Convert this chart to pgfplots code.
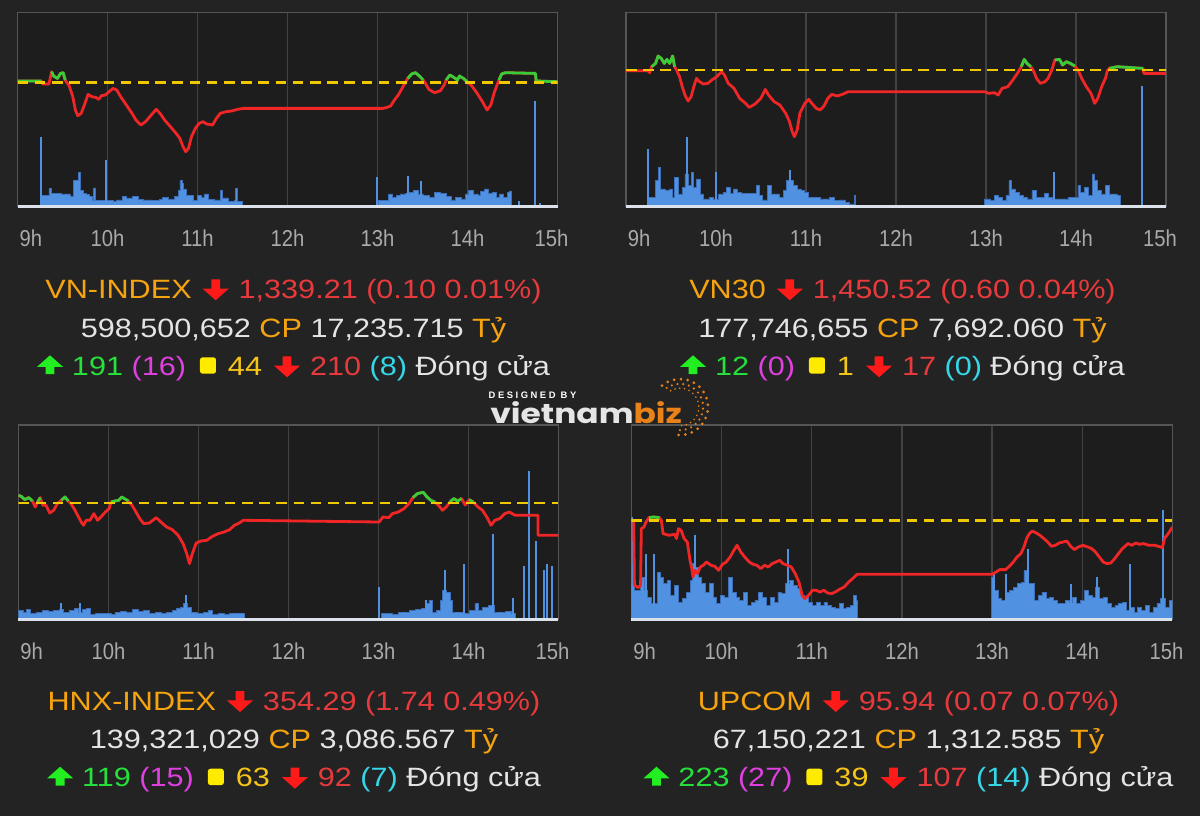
\documentclass[border=0pt]{standalone}
\usepackage{pgfplots}
\pgfplotsset{compat=1.18}
\usepackage{fontspec}
\setmainfont{Liberation Sans}
\newfontfamily\infofont{Liberation Sans}[FakeStretch=1.155]
\newfontfamily\tickfont{Liberation Sans}[FakeStretch=0.88]
\newfontfamily\logofont{Poppins}[FakeStretch=1.2]
\newfontfamily\designfont{Liberation Sans}[LetterSpace=27]

\definecolor{bgc}{RGB}{35,35,35}
\definecolor{plotbg}{RGB}{29,29,29}
\definecolor{framec}{RGB}{85,85,85}
\definecolor{gridc}{RGB}{66,66,66}
\definecolor{basec}{RGB}{220,226,236}
\definecolor{volc}{RGB}{80,145,225}
\definecolor{voledge}{RGB}{62,112,185}
\definecolor{pricered}{RGB}{240,38,38}
\definecolor{pricegreen}{RGB}{55,205,55}
\definecolor{refyellow}{RGB}{240,200,0}
\definecolor{tickc}{RGB}{170,170,170}
\definecolor{torange}{RGB}{245,163,15}
\definecolor{tred}{RGB}{232,58,60}
\definecolor{twhite}{RGB}{228,228,228}
\definecolor{tgreen}{RGB}{38,224,60}
\definecolor{tmagenta}{RGB}{224,64,224}
\definecolor{tyellow}{RGB}{245,197,24}
\definecolor{sqyellow}{RGB}{255,235,0}
\definecolor{tcyan}{RGB}{53,214,232}
\definecolor{arrred}{RGB}{255,26,26}
\definecolor{arrgreen}{RGB}{34,238,34}
\definecolor{logoorange}{RGB}{232,130,25}

\newcommand{\dnarr}{\tikz[x=1pt,y=1pt,baseline=0pt]{\fill[arrred] (6.5,-1)--(13,4.8)--(8.7,4.8)--(8.7,9.5)--(4.3,9.5)--(4.3,4.8)--(0,4.8)--cycle;}}
\newcommand{\uparr}{\tikz[x=1pt,y=1pt,baseline=0pt]{\fill[arrgreen] (6.5,10)--(13,4.2)--(8.7,4.2)--(8.7,0.6)--(4.3,0.6)--(4.3,4.2)--(0,4.2)--cycle;}}
\newcommand{\ysq}{\tikz[x=1pt,y=1pt,baseline=0pt]{\fill[sqyellow,rounded corners=1.3pt] (0,0.8) rectangle (8,9);}}

\pgfplotsset{
 panel/.style={
  scale only axis, width=270pt, height=97.15pt,
  xmin=0,xmax=360,ymin=0,ymax=194.3,
  axis background/.style={fill=plotbg},
  axis line style={draw=framec,line width=0.8pt},
  xtick={0,60,...,360}, ytick=\empty,
  xticklabels={{\hspace*{13.2pt}9h},10h,11h,12h,13h,14h,{15h\hspace*{6pt}}},
  xmajorgrids, major grid style={draw=gridc,line width=0.6pt},
  major tick length=0pt,
  xticklabel style={font=\tickfont\fontsize{11.5pt}{12pt}\selectfont, text=tickc, anchor=base, yshift=-19.85pt, inner sep=0pt},
  clip mode=individual,
 },
 vol/.style={const plot, fill=volc, draw=voledge, line width=0.35pt},
 spike/.style={ycomb, draw=volc, line width=1pt},
 redline/.style={pricered, line width=1.4pt, line join=round},
 greenline/.style={pricegreen, line width=1.4pt, line join=round, unbounded coords=jump},
 refline/.style={refyellow, line width=1.4pt, dash pattern=on 5.3pt off 3.3pt},
}
\tikzset{info/.style={anchor=base, inner sep=0pt, font=\infofont\fontsize{13.25pt}{15pt}\selectfont}}

\begin{document}
\begin{tikzpicture}[x=0.5pt,y=0.5pt]
\fill[bgc] (0,0) rectangle (1200,816);

% ---------------- VN-INDEX ----------------
\begin{axis}[panel, at={(8.8pt,304.65pt)}, anchor=south west]
\addplot[vol] coordinates {(15.8,11)(20.2,11)(20.9,18.3)(22.2,13.3)(26.6,13.3)(29.1,12.7)(32.9,12.7)(35,10)(37.3,26)(38.8,26.7)(40.6,34.3)(41.9,16)(43.7,13.3)(45.7,12)(47.5,10)(49.5,6.7)(50.8,18.7)(52.1,6)(58.5,6)(60.3,6)(63.6,5.3)(66.1,6.7)(70,10)(72.5,8.7)(76.3,10)(80.2,7.3)(84,6.7)(89.1,6)(94.2,7.3)(96.8,9.3)(100.6,7.3)(104.4,10)(107,16)(108.2,26)(109.5,23.3)(110.8,17.7)(112.6,11)(114.6,11)(117.2,6)(119.7,11)(122.3,9.3)(124.8,12.7)(127.4,7.3)(131.2,6.7)(135.1,16)(136.3,8.7)(140.2,5.3)(144.5,6)(145.3,18.3)(146.5,5.3)(149.6,0)(240.5,6)(246.1,6)(247.4,12.7)(249.9,9.3)(252.5,11)(255,12.7)(258.4,13.3)(261.4,14.3)(264,16)(267,12.7)(270.4,11)(274.2,9.3)(278,14.3)(281.9,13)(285.7,10)(289,6.7)(292.1,9.3)(295.9,7.7)(298.4,12.7)(300.2,16)(303.5,12.7)(306.9,11)(308.7,15.3)(311.2,17.7)(313.8,13.3)(316.3,14.3)(318.9,9.3)(321.4,12.7)(324,9.3)(326.5,14.3)(327.8,15.7)(329.1,0)} \closedcycle;
\addplot[spike] coordinates {(15.8,70)(59.2,46.7)(239.7,29.3)(260.1,31)(269.1,26)(334.2,6)(345.2,106)(348.2,3.3)};
\addplot[redline] coordinates {(0,125.7)(15.8,125.7)(16.8,122.7)(20.9,122.7)(22.7,135)(24,130.7)(26.6,128.3)(28.6,133.3)(30.4,134)(31.7,126.7)(32.9,124)(34.2,121.7)(36.8,110)(38.5,96.7)(40.1,91)(42.4,93.3)(44.9,103.3)(47,112.3)(49.5,110)(52.1,109.3)(54.1,107.3)(55.9,111)(58.5,111.7)(61,115)(63.6,118.3)(66.1,116.7)(68.7,110)(72.5,101.7)(76.3,93.3)(78.9,86.7)(82.2,81.7)(85.3,85)(89.1,91.7)(92.4,97.3)(95,93.3)(98,86.7)(101.9,80)(105.7,73.3)(108.2,68.3)(110.3,60)(112.1,55)(113.9,58.3)(115.9,70)(118.5,78.3)(121,83.3)(123.6,85)(126.1,82.7)(130,81.7)(132.5,88.3)(135.1,93.3)(138.9,95)(142.7,95.7)(146.5,97.3)(150.4,98.3)(243.6,98.3)(246.1,99.3)(248.7,100.7)(251.2,106.7)(253.8,111.7)(256.3,118.3)(258.4,124)(260.1,128.3)(262.7,132.7)(265.3,134)(267.8,130.7)(270.4,126.7)(271.6,124)(274.2,117.3)(278,114)(281.9,116)(284.4,121.7)(285.7,126.7)(288.2,131.7)(290.8,129.3)(293.3,126.7)(294.6,130.7)(297.2,128.3)(299.7,125)(302.3,121.7)(306.1,114)(309.9,105)(313,96.7)(315.5,101.7)(317.6,113.3)(319.6,121.7)(320.9,126.7)(322.7,132.7)(325.3,134)(345.2,133.3)(345.7,125.7)(360,125)};
\addplot[greenline, restrict y to domain=124.6:500] coordinates {(0,125.7)(15.8,125.7)(16.8,122.7)(20.9,122.7)(22.7,135)(24,130.7)(26.6,128.3)(28.6,133.3)(30.4,134)(31.7,126.7)(32.9,124)(256.3,118.3)(258.4,124)(260.1,128.3)(262.7,132.7)(265.3,134)(267.8,130.7)(270.4,126.7)(271.6,124)(284.4,121.7)(285.7,126.7)(288.2,131.7)(290.8,129.3)(293.3,126.7)(294.6,130.7)(297.2,128.3)(299.7,125)(302.3,121.7)(319.6,121.7)(320.9,126.7)(322.7,132.7)(325.3,134)(345.2,133.3)(345.7,125.7)(360,125)};
\addplot[refline] coordinates {(0,124)(360,124)};
\draw[basec,line width=1.3pt] (rel axis cs:0,0) -- (rel axis cs:1,0);
\end{axis}

% ---------------- VN30 ----------------
\begin{axis}[panel, at={(313pt,304.65pt)}, anchor=south west]
\addplot[vol] coordinates {(14.6,9.3)(19.7,26)(21.4,39)(23,17.7)(26,16)(29.1,17.7)(31.1,9.3)(32.4,29.3)(35,12.7)(37.5,19.3)(39.3,32.7)(41.4,21)(43.4,34.3)(45.2,19.3)(47,27.7)(49.5,12.7)(51.6,7.7)(55.4,9.3)(58,7.7)(61.8,12.7)(64.8,14.3)(66.9,19.3)(69.4,13.3)(71.5,17.7)(74,14.3)(77.1,13.3)(82.2,13.3)(86.8,21)(88.6,11)(91.1,6.7)(94.5,21)(97,12.7)(99.6,12.7)(102.1,9.3)(104.7,16)(107.2,26)(109,26)(111.6,21)(114.1,17.7)(116.7,16)(119.2,14.3)(121.8,9.3)(125.6,9.3)(129.4,7.7)(133.3,7.7)(135.8,9.3)(138.9,6)(142.2,6.7)(146,4.3)(148.6,2.7)(152.4,11)(153.2,0)(239.2,7.7)(243,6)(245.6,11)(248.1,9.3)(250.7,6)(253.3,11)(255.3,26)(257.1,17.7)(259.6,14.3)(262.2,11)(264.7,9.3)(267.3,7.7)(270.6,16)(273.7,9.3)(276.2,9.3)(278.8,13.3)(281.3,9.3)(283.9,7.7)(287.7,7.7)(291.6,7.7)(294.6,9.3)(297.2,9.3)(301.3,21)(303.1,14.3)(305.6,19.3)(308.2,11)(310.7,32.7)(312.5,26)(314.5,16)(317.1,12.7)(319.6,21)(322.2,12.7)(324.7,12.7)(327.3,11)(329.3,0)} \closedcycle;
\addplot[spike] coordinates {(14.6,57.7)(40.9,70)(59.7,34.3)(109.5,36.7)(285.2,34.3)(343.9,121)};
\addplot[redline] coordinates {(0,136)(14.6,136)(15.8,134)(17.1,140)(19.7,143.3)(21.4,150.7)(23.5,148.3)(25.5,143.3)(27.3,147.3)(29.1,143.3)(31.1,150.7)(32.4,140)(33.7,136.7)(35.7,130)(37.5,120)(39.3,111.7)(41.4,105.7)(43.4,110)(45.2,120)(47,128.3)(49,125)(51.6,122.7)(54.6,123.3)(57.2,126.7)(60.5,130)(63.8,135)(65.6,131.7)(68.2,123.3)(72,118.3)(75.8,108.3)(79.7,103.3)(82.2,99.3)(86,102.7)(89.9,108.3)(92.9,117.3)(95,111.7)(98.8,105)(102.6,101.7)(106.5,93.3)(109,85)(110.8,75)(112.3,70)(114.1,76.7)(115.9,93.3)(119.2,103.3)(121.8,107.3)(124.3,102.7)(126.9,98.3)(129.4,96.7)(132,100.7)(134.5,108.3)(137.1,112.3)(140.9,110.7)(144.8,112.7)(148.1,115)(239.2,115)(241.8,113.3)(245.6,114)(248.1,111.7)(250.7,118.3)(254.5,120)(257.9,126.7)(260.9,133.3)(263.5,140)(265.5,147.3)(267.3,143.3)(269.9,140)(271.6,136)(273.7,128.3)(276.2,123.3)(279.3,125)(281.3,128.3)(283.9,136.7)(285.9,146.7)(289,147.3)(291.1,141.7)(293.6,145)(296.2,143.3)(299.2,140.7)(301.3,136.7)(303.8,128.3)(306.9,120)(310,113.3)(312.5,103.3)(314.5,108.3)(317.1,120)(319.6,128.3)(320.9,136)(322.2,138.3)(327.3,140)(344.7,138.3)(345.2,133.3)(360,133.3)};
\addplot[greenline, restrict y to domain=137.3:500] coordinates {(15.8,134)(17.1,140)(19.7,143.3)(21.4,150.7)(23.5,148.3)(25.5,143.3)(27.3,147.3)(29.1,143.3)(31.1,150.7)(32.4,140)(33.7,136.7)(260.9,133.3)(263.5,140)(265.5,147.3)(267.3,143.3)(269.9,140)(271.6,136)(281.3,128.3)(283.9,136.7)(285.9,146.7)(289,147.3)(291.1,141.7)(293.6,145)(296.2,143.3)(299.2,140.7)(301.3,136.7)(320.9,136)(322.2,138.3)(327.3,140)(344.7,138.3)(345.2,133.3)};
\addplot[refline] coordinates {(0,136.7)(360,136.7)};
\draw[basec,line width=1.3pt] (rel axis cs:0,0) -- (rel axis cs:1,0);
\end{axis}

% ---------------- HNX-INDEX ----------------
\begin{axis}[panel, at={(9.2pt,98.35pt)}, anchor=south west]
\addplot[vol] coordinates {(0,9)(3.1,7.3)(5.6,9.7)(8.2,5.7)(12,7.3)(15.8,9)(19.7,8.3)(23.5,9)(27.3,9.7)(29.9,7.3)(33.7,9)(37.5,10.7)(40.1,7.3)(42.6,9.7)(45.2,10.7)(47.7,5)(51.6,5.7)(56.7,6.3)(61.8,5)(64.3,7.3)(68.2,8.3)(72,7.3)(75.8,9.7)(79.7,8.3)(83.5,9)(87.3,6.3)(91.1,7.3)(95,5.7)(98.8,7.3)(102.6,9)(105.2,10.7)(107.7,12.3)(109.8,15.7)(112.8,11.7)(115.4,7.3)(119.2,5.7)(123.1,7.3)(126.9,9)(129.4,5)(133.3,5.7)(137.1,5)(140.9,6.3)(146,6.3)(150.6,0)(241.8,5.7)(245.6,6.3)(249.4,5)(253.3,7.3)(257.1,7.3)(260.9,9)(264.7,9.7)(268.6,10.7)(271.1,16.3)(273.7,19)(276.2,7.3)(278.8,9)(281.3,19)(282.7,29)(285.2,27.3)(287.7,19)(289.5,7.3)(292.8,7.3)(296.6,5.7)(300.5,9)(304.3,15.7)(306.9,9)(309.4,12.3)(313.2,14)(317.1,7.3)(320.9,7.3)(324.7,8.3)(328.6,5.7)(331.1,0)} \closedcycle;
\addplot[spike] coordinates {(28.6,16.3)(40.8,16.3)(111.6,24)(240.5,32.3)(271.6,19)(284.6,49.7)(297.1,55)(316.3,85.7)(329.9,21.7)(337,53)(340.1,148.3)(345.2,78.3)(350.3,49.7)(352.3,55)(355.4,53)};
\addplot[redline] coordinates {(0,124)(1.8,123)(4.3,119.7)(6.9,121.7)(9.4,118.3)(11.2,112.3)(12.8,117.3)(14.6,121.7)(16.3,114)(18.4,114)(20.9,106.3)(23.5,109)(26,115.7)(28.6,119)(31.1,122.3)(33.2,118.3)(35,115.7)(37.5,109.7)(40.1,102.3)(41.9,97.3)(43.4,94)(45.2,99)(47.7,99)(50.3,105.7)(52.8,99)(55.4,103)(58,107.3)(60.5,110.7)(61.8,117.3)(64.3,118.3)(66.9,119)(68.9,122.3)(70.7,120.7)(73.3,118.3)(75.8,114)(78.4,107.3)(80.9,100.7)(83.5,95.7)(87.3,96.3)(91.9,101.7)(95,97.3)(98.8,92.3)(102.6,89.7)(106.5,84)(109.8,75.7)(112.3,65.3)(114.1,55.7)(115.9,65.3)(118.5,76.3)(121.8,78.3)(125.6,79)(129.4,83)(133.3,85.7)(137.1,87.3)(140.9,89.7)(144,94)(147.3,96.3)(149.9,99)(240.5,97.3)(243,102.3)(246.9,101.7)(249.4,105.7)(253.3,107.3)(257.1,110.7)(260.4,115.7)(263,121.7)(266,125.7)(269.9,127)(272.4,122.3)(275,119)(277.6,117.3)(280.1,114)(282.7,109)(285.2,112.3)(287.7,117.3)(290.3,120.7)(292.8,118.3)(295.4,120.7)(297.9,114.3)(300.5,119.7)(303.1,117.3)(306.4,112.3)(309.4,109)(312.5,101.7)(315.1,94)(317.6,99)(320.9,100.7)(324.3,105.7)(327.3,107.3)(331.1,104)(346.4,104)(346.4,84)(360,84)};
\addplot[greenline, restrict y to domain=116.9:500] coordinates {(0,124)(1.8,123)(4.3,119.7)(6.9,121.7)(9.4,118.3)(11.2,112.3)(12.8,117.3)(14.6,121.7)(16.3,114)(26,115.7)(28.6,119)(31.1,122.3)(33.2,118.3)(35,115.7)(60.5,110.7)(61.8,117.3)(64.3,118.3)(66.9,119)(68.9,122.3)(70.7,120.7)(73.3,118.3)(75.8,114)(263,121.7)(266,125.7)(269.9,127)(272.4,122.3)(275,119)(277.6,117.3)(280.1,114)(287.7,117.3)(290.3,120.7)(292.8,118.3)(295.4,120.7)(297.9,114.3)(300.5,119.7)(303.1,117.3)(306.4,112.3)};
\addplot[refline] coordinates {(0,116.3)(360,116.3)};
\draw[basec,line width=1.3pt] (rel axis cs:0,0) -- (rel axis cs:1,0);
\end{axis}

% ---------------- UPCOM ----------------
\begin{axis}[panel, width=270.5pt, at={(315.7pt,98.35pt)}, anchor=south west]
\addplot[vol] coordinates {(0,35.7)(2,29)(5.9,42.3)(8.4,29)(10.9,22.3)(13.5,15.7)(17.3,47.3)(19.3,42.3)(21.1,35.7)(23.7,39)(26.2,24)(28.8,34)(31.3,17.3)(33.9,20.7)(36.4,27.3)(39,39)(40.7,55.7)(42.8,52.3)(44.8,42.3)(46.6,35.7)(49.1,27.3)(51.7,35.7)(54.2,22.3)(56.8,15.7)(59.3,24)(61.9,22.3)(64.4,42.3)(67,27.3)(69.5,22.3)(72.1,19)(74.6,27.3)(77.1,14)(79.7,17.3)(82.2,19)(84.8,27.3)(87.3,22.3)(89.9,14)(92.4,22.3)(95,17.3)(97.5,27.3)(100.1,25.7)(102.6,35.7)(105.1,39)(107.7,34)(110.2,30.7)(112.8,24)(115.3,22.3)(117.9,17.3)(120.4,14)(123,17.3)(125.5,14)(128.1,17.3)(130.6,14)(133.2,12.3)(135.7,10.7)(138.2,15.7)(140.8,10.7)(143.3,12.3)(145.9,14)(147.7,24)(149.7,19)(150.2,0)(239.3,42.3)(240.9,29)(243.9,20.7)(246.5,19)(249,27.3)(251.5,29)(254.1,32.3)(256.6,35.7)(259.2,37.3)(261.2,49)(263.8,35.7)(265.6,35.7)(268.1,19)(270.7,24)(273.2,27.3)(275.8,20.7)(278.3,22.3)(280.9,19)(283.5,15.7)(286,15.7)(288.6,19)(291.1,17.3)(293.7,22.3)(296.2,15.7)(298.7,19)(301.3,29)(303.8,24)(306.4,22.3)(308.9,32.3)(311.5,20.7)(314,22.3)(316.6,15.7)(319.1,12.3)(321.7,14)(324.2,15.7)(326.8,17.3)(329.3,9)(331.9,12.3)(334.4,7.3)(337,12.3)(339.5,9)(342.1,14)(344.6,7.3)(347.2,12.3)(349.7,15.7)(352.3,20.7)(355.6,12.3)(358.1,19)(360,19)} \closedcycle;
\addplot[spike] coordinates {(0.4,102)(9.7,65.7)(14.8,65.7)(42.3,84)(104.4,70.7)(241.6,45.7)(249,45.7)(263.8,70.7)(292.3,35.7)(309.6,42.3)(331.7,55)(353.9,109.7)};
\addplot[redline] coordinates {(0.5,99)(1.5,99)(2,34)(4.6,31.7)(6.1,34)(6.6,90.7)(8.4,92.3)(9.7,97.3)(11.7,101.7)(14.8,102.3)(18.6,101.7)(19.9,99)(21.1,85.7)(24.9,84)(28.8,85)(30,80.7)(31.3,90.7)(33.1,89)(35.1,80.7)(37.2,77.3)(39,59)(40.2,50.7)(41,42.3)(42.3,49)(44,45.7)(45.8,52.3)(47.9,54)(49.9,57.3)(53,54)(55.5,53)(58,49)(60.6,55)(63.1,57.3)(65.7,62.3)(68.2,69)(70.3,74)(72.8,67.3)(75.4,62.3)(78.4,57.3)(81,55)(83.5,54)(86.1,50.7)(88.6,54)(91.1,52.3)(93.7,55.7)(96.2,57.3)(98.8,59)(100.8,55.7)(103.9,54)(106.4,52.3)(109,45.7)(111.5,37.3)(113.6,24)(115.3,20.7)(117.9,24)(120.4,29)(123,29)(125.5,27.3)(128.1,29)(130.6,26.3)(133.2,25.7)(135.7,27.3)(138.2,29.7)(141.6,32.3)(144.6,37.3)(147.2,40.7)(150.2,45)(240.1,45)(242.6,47.3)(245.2,49.7)(249,49.7)(251.5,53)(254.1,57.3)(256.6,62.3)(259.2,65.7)(261.2,72.3)(263,80.7)(264.8,85.7)(266.8,88.3)(269.4,86.3)(271.9,84)(274.5,80.7)(277,77.3)(279.5,73)(282.1,74)(284.6,76.3)(287.2,77.3)(289.7,78.3)(292.3,73)(294.8,69.7)(297.4,72.3)(300.4,74)(303.7,72.3)(306.3,70.7)(308.8,67.3)(311.4,62.3)(313.9,57.3)(316.5,55.7)(319,56.3)(321.6,60.7)(324.1,65.7)(326.7,70.7)(330.5,75.7)(333,74)(335.6,76.3)(338.1,75)(340.7,75.7)(344.5,74)(348.3,74)(352.1,72.3)(353.4,71.7)(354.7,80.7)(357.2,85.7)(360,92.3)};
\addplot[greenline, restrict y to domain=100:500] coordinates {(9.7,97.3)(11.7,101.7)(14.8,102.3)(18.6,101.7)(19.9,99)};
\addplot[refline] coordinates {(0,99)(360,99)};
\draw[basec,line width=1.3pt] (rel axis cs:0,0) -- (rel axis cs:1,0);
\end{axis}

% ---------------- info text ----------------
\node[info] at (293.5,517.7) {\textcolor{torange}{VN-INDEX}\hspace{5.5pt}\dnarr\hspace{5pt}\textcolor{tred}{1,339.21 (0.10 0.01\%)}};
\node[info] at (293.5,478.7) {\textcolor{twhite}{598,500,652} \textcolor{torange}{CP} \textcolor{twhite}{17,235.715} \textcolor{torange}{Tỷ}};
\node[info] at (293.5,440.7) {\uparr\hspace{4.5pt}\textcolor{tgreen}{191} \textcolor{tmagenta}{(16)}\hspace{7pt}\ysq\hspace{6pt}\textcolor{tyellow}{44}\hspace{6pt}\dnarr\hspace{5pt}\textcolor{tred}{210} \textcolor{tcyan}{(8)} \textcolor{twhite}{Đóng cửa}};

\node[info] at (902.5,517.7) {\textcolor{torange}{VN30}\hspace{5.5pt}\dnarr\hspace{5pt}\textcolor{tred}{1,450.52 (0.60 0.04\%)}};
\node[info] at (902.5,478.7) {\textcolor{twhite}{177,746,655} \textcolor{torange}{CP} \textcolor{twhite}{7,692.060} \textcolor{torange}{Tỷ}};
\node[info] at (902.5,440.7) {\uparr\hspace{4.5pt}\textcolor{tgreen}{12} \textcolor{tmagenta}{(0)}\hspace{7pt}\ysq\hspace{6pt}\textcolor{tyellow}{1}\hspace{6pt}\dnarr\hspace{5pt}\textcolor{tred}{17} \textcolor{tcyan}{(0)} \textcolor{twhite}{Đóng cửa}};

\node[info] at (294,106) {\textcolor{torange}{HNX-INDEX}\hspace{5.5pt}\dnarr\hspace{5pt}\textcolor{tred}{354.29 (1.74 0.49\%)}};
\node[info] at (294,67.7) {\textcolor{twhite}{139,321,029} \textcolor{torange}{CP} \textcolor{twhite}{3,086.567} \textcolor{torange}{Tỷ}};
\node[info] at (294,29.3) {\uparr\hspace{4.5pt}\textcolor{tgreen}{119} \textcolor{tmagenta}{(15)}\hspace{7pt}\ysq\hspace{6pt}\textcolor{tyellow}{63}\hspace{6pt}\dnarr\hspace{5pt}\textcolor{tred}{92} \textcolor{tcyan}{(7)} \textcolor{twhite}{Đóng cửa}};

\node[info] at (908.5,106) {\textcolor{torange}{UPCOM}\hspace{5.5pt}\dnarr\hspace{5pt}\textcolor{tred}{95.94 (0.07 0.07\%)}};
\node[info] at (908.5,67.7) {\textcolor{twhite}{67,150,221} \textcolor{torange}{CP} \textcolor{twhite}{1,312.585} \textcolor{torange}{Tỷ}};
\node[info] at (908.5,29.3) {\uparr\hspace{4.5pt}\textcolor{tgreen}{223} \textcolor{tmagenta}{(27)}\hspace{7pt}\ysq\hspace{6pt}\textcolor{tyellow}{39}\hspace{6pt}\dnarr\hspace{5pt}\textcolor{tred}{107} \textcolor{tcyan}{(14)} \textcolor{twhite}{Đóng cửa}};

% ---------------- watermark ----------------
\node[anchor=base, inner sep=0pt, text=white, font=\designfont\bfseries\fontsize{4.7pt}{5pt}\selectfont] at (532.5,418) {DESIGNED BY};
\node[anchor=base west, inner sep=0pt, font=\logofont\bfseries\fontsize{13.7pt}{14pt}\selectfont] at (490,392.7) {\textcolor{white!90!black}{vietnam}\textcolor{logoorange}{biz}};
\draw[logoorange, line width=1.5pt, line cap=round, dash pattern=on 0pt off 3.4pt] (680,409) ++(130:14pt) arc[start angle=130, end angle=-105, radius=14pt];
\draw[logoorange, line width=1.2pt, line cap=round, dash pattern=on 0pt off 2.9pt] (680,409) ++(125:11.6pt) arc[start angle=125, end angle=-100, radius=11.6pt];
\draw[logoorange, line width=0.9pt, line cap=round, dash pattern=on 0pt off 2.4pt] (680,409) ++(120:9.4pt) arc[start angle=120, end angle=-95, radius=9.4pt];

\pgfresetboundingbox
\useasboundingbox (0,0) rectangle (1200,816);
\end{tikzpicture}
\end{document}
